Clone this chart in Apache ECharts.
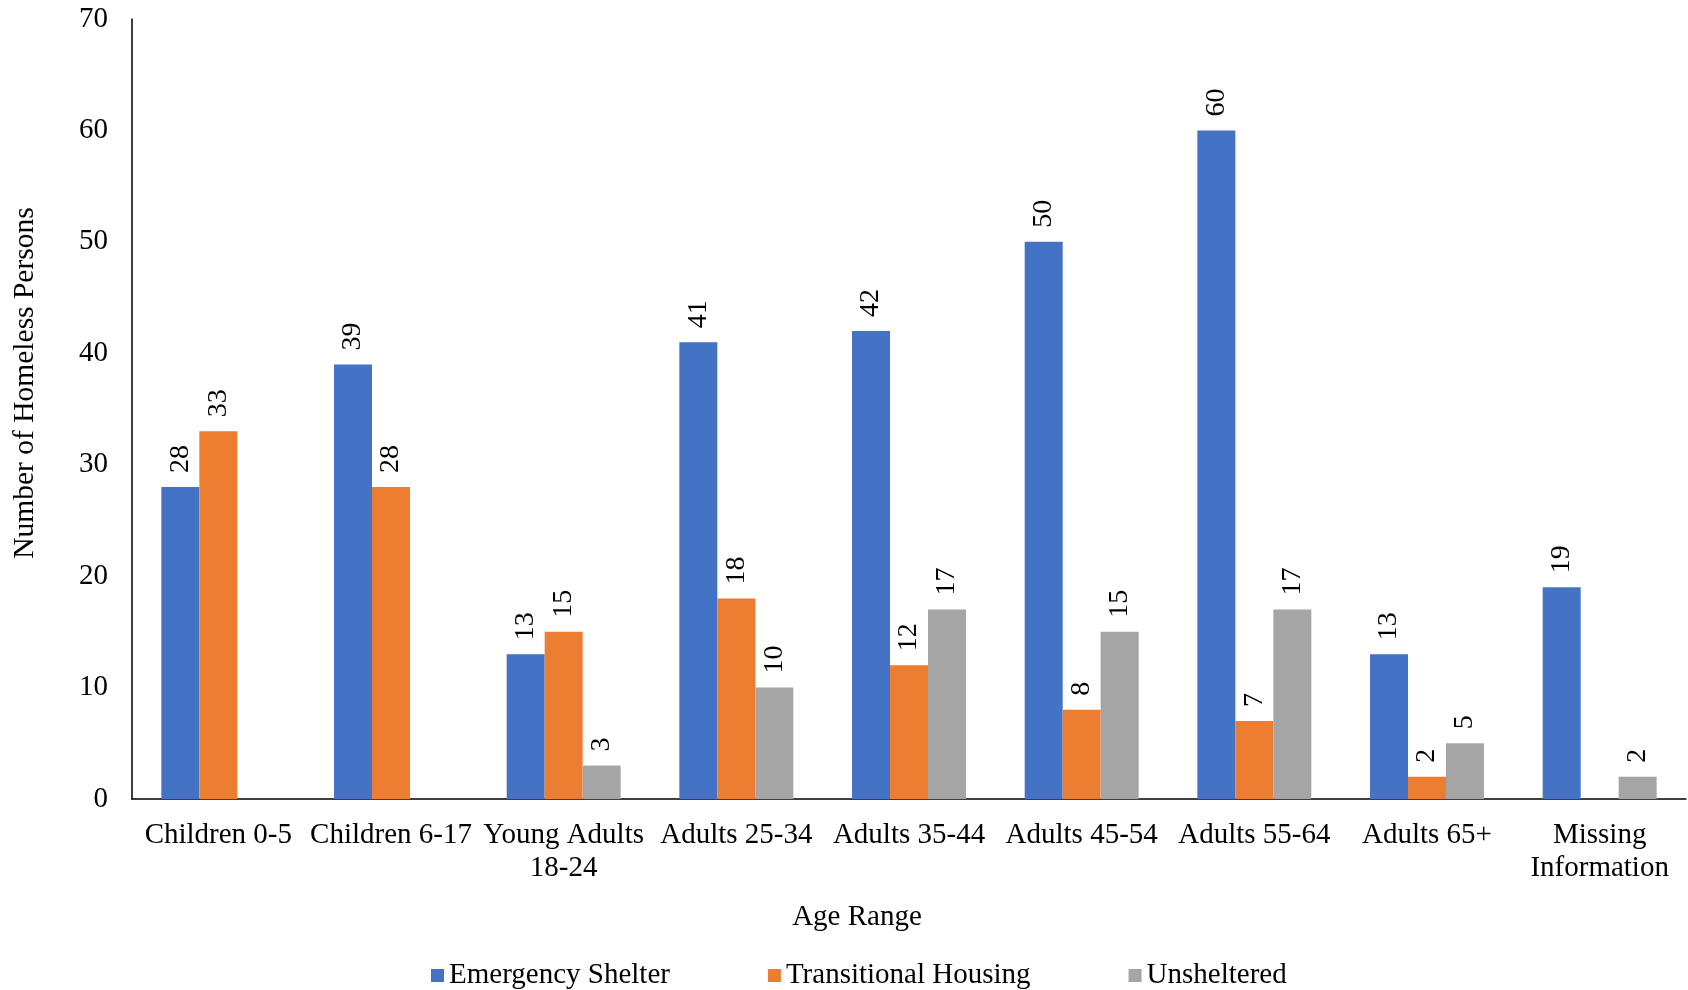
<!DOCTYPE html>
<html>
<head>
<meta charset="utf-8">
<script src="https://cdn.jsdelivr.net/npm/echarts@6/dist/echarts.min.js"></script>
<style>html,body{margin:0;padding:0;background:#fff;}#chart{width:1688px;height:990px;}</style>
</head>
<body>
<div id="chart"></div>
<script>
const categories = ["Children 0-5", "Children 6-17", "Young Adults\n18-24", "Adults 25-34", "Adults 35-44", "Adults 45-54", "Adults 55-64", "Adults 65+", "Missing\nInformation"];
const emergencyShelter = [28, 39, 13, 41, 42, 50, 60, 13, 19];
const transitionalHousing = [33, 28, 15, 18, 12, 8, 7, 2, null];
const unsheltered = [null, null, 3, 10, 17, 15, 17, 5, 2];
const seriesNames = ["Emergency Shelter", "Transitional Housing", "Unsheltered"];
const colors = ["#4472C4", "#ED7D31", "#A5A5A5"];
const FONT = "'Liberation Serif', 'Times New Roman', serif";

const chart = echarts.init(document.getElementById('chart'));
const labelCfg = {
  show: true, position: 'top', rotate: 90, align: 'left', verticalAlign: 'middle',
  distance: 14, fontFamily: FONT, fontSize: 28, color: '#000'
};
function mk(name, data, color) {
  return {
    name: name, type: 'bar', data: data, barGap: '0%', barCategoryGap: '34%',
    itemStyle: { color: color }, label: labelCfg
  };
}
chart.setOption({
  animation: false,
  color: colors,
  grid: { left: 132, right: 2, top: 19, bottom: 191, containLabel: false },
  legend: {
    data: seriesNames, left: 426, top: 956, itemWidth: 13, itemHeight: 13, itemGap: 98,
    icon: 'rect', textStyle: { fontFamily: FONT, fontSize: 29, color: '#000' }
  },
  xAxis: {
    type: 'category', data: categories,
    name: 'Age Range', nameLocation: 'middle', nameGap: 104,
    nameTextStyle: { fontFamily: FONT, fontSize: 29, color: '#000', padding: [0, 104, 0, 0] },
    axisLine: { lineStyle: { color: '#000', width: 1.5 } },
    axisTick: { show: false },
    axisLabel: { interval: 0, margin: 20, fontFamily: FONT, fontSize: 29, lineHeight: 33, color: '#000' }
  },
  yAxis: {
    type: 'value', min: 0, max: 70, interval: 10,
    name: 'Number of Homeless Persons', nameLocation: 'middle', nameGap: 92, nameRotate: 90,
    nameTextStyle: { fontFamily: FONT, fontSize: 29.5, color: '#000', padding: [0, 0, 0, 52] },
    axisLine: { show: true, lineStyle: { color: '#000', width: 1.5 } },
    axisTick: { show: false },
    splitLine: { show: false },
    axisLabel: { margin: 24, fontFamily: FONT, fontSize: 29, color: '#000' }
  },
  series: [
    mk(seriesNames[0], emergencyShelter, colors[0]),
    mk(seriesNames[1], transitionalHousing, colors[1]),
    mk(seriesNames[2], unsheltered, colors[2])
  ]
});
</script>
</body>
</html>
